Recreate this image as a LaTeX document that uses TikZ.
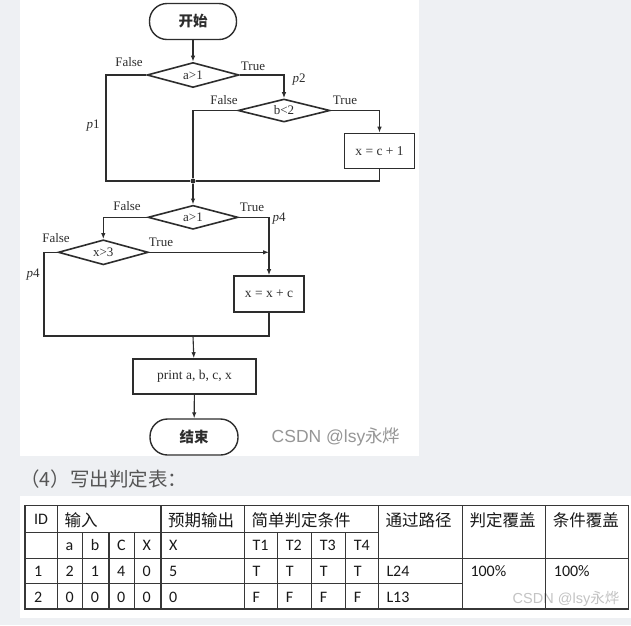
\documentclass[tikz,border=0pt]{standalone}
\usepackage{fontspec}
\setmainfont{Liberation Serif}
\newfontfamily\cjkfont{Noto Sans CJK SC}
\newfontfamily\calfont{Carlito}
\newfontfamily\arialfont{Liberation Sans}
\usetikzlibrary{shapes.geometric,arrows.meta}
\definecolor{bggray}{RGB}{238,240,243}
\definecolor{ink}{RGB}{45,45,45}
\definecolor{wmone}{RGB}{150,150,150}
\definecolor{wmtwo}{RGB}{195,195,195}
\definecolor{tline}{RGB}{55,55,55}
\definecolor{captxt}{RGB}{85,85,85}
\definecolor{ttxt}{RGB}{25,25,25}
\tikzset{
  term/.style={draw=ink, line width=1.4pt, rounded corners=17.5pt, minimum width=87pt, minimum height=36pt, inner sep=0pt, font=\cjkfont\bfseries\fontsize{14.5}{16}\selectfont, text=ink},
  dec/.style={diamond, shape aspect=4, draw=ink, line width=1.6pt, minimum width=92pt, minimum height=25pt, inner sep=0pt, font=\fontsize{13}{14}\selectfont, text=ink},
  procbox/.style={draw=ink, line width=1.6pt, minimum width=70pt, minimum height=35pt, inner sep=2pt, font=\fontsize{13.5}{15}\selectfont, text=ink},
  lab/.style={font=\fontsize{13}{14}\selectfont, text=ink, inner sep=0pt},
  conn/.style={draw=ink, line width=1.1pt},
  arr/.style={conn, -{Latex[length=6pt,width=4.5pt]}},
  tc/.style={anchor=base west, inner sep=0pt, font=\calfont\fontsize{16}{18}\selectfont, text=ttxt},
  tz/.style={anchor=base west, inner sep=0pt, font=\cjkfont\fontsize{16.5}{18}\selectfont, text=ttxt},
  tgrid/.style={draw=tline, line width=1.3pt}
}
\begin{document}
\begin{tikzpicture}[x=1pt,y=-1pt]
\useasboundingbox (0,0) rectangle (631,625);
\fill[bggray] (0,0) rectangle (631,625);
\fill[white] (20,0) rectangle (419,456);
\fill[white] (20,496) rectangle (631,618);

% ---------- flowchart ----------
\node[term] (start) at (193,21.5) {开始};
\node[dec] (d1) at (193,75) {a>1};
\node[dec, minimum height=23pt] (d2) at (284,110.5) {b<2};
\node[procbox] (b1) at (379.5,151) {x = c + 1};
\node[circle, fill=ink, inner sep=0pt, minimum size=5pt] (j) at (193,181) {};
\node[dec, minimum width=90pt, minimum height=24pt] (d3) at (193,217.3) {a>1};
\node[dec, minimum width=90pt] (d4) at (103.3,252.3) {x>3};
\node[procbox, minimum width=70pt, minimum height=36pt] (b2) at (269,294) {x = x + c};
\node[procbox, minimum width=123pt] (b3) at (194.5,376.5) {print a, b, c, x};
\node[term, minimum width=88pt] (end) at (194,437) {结束};

\coordinate (c1) at (106,181);
\coordinate (c2) at (379.5,181);
\coordinate (t4) at (269,252.3);
\coordinate (m) at (193,336);
\coordinate (c3) at (44,336);
\coordinate (c4) at (269,336);

\draw[arr] (start) -- (d1);
\draw[conn] (d1.west) -| (c1) -- (j);
\draw[arr] (d1.east) -| (d2.north);
\draw[conn] (d2.west) -| (j);
\draw[arr] (d2.east) -| (b1.north);
\draw[conn] (b1.south) -- (c2) -- (j);
\draw[arr] (j) -- (d3);
\draw[arr] (d3.west) -| (d4.north);
\draw[arr] (d3.east) -| (b2.north);
\draw[arr] (d4.east) -- (t4);
\draw[conn] (d4.west) -| (c3) -- (m);
\draw[conn] (b2.south) -- (c4) -- (m);
\draw[arr] (m) -- (b3);
\draw[arr] (b3) -- (end);

\node[lab] (f1) at (129,62) {False};
\node[lab] (t1) at (253,66) {True};
\node[lab] (p2) at (299,80) {\textit{p}2};
\node[lab] (p1) at (93,126) {\textit{p}1};
\node[lab] (f2) at (224,100) {False};
\node[lab] (tt2) at (345,100) {True};
\node[lab] (f3) at (127,206) {False};
\node[lab] (tt3) at (252,207) {True};
\node[lab] (p4a) at (279,219) {\textit{p}4};
\node[lab] (f4) at (56,238) {False};
\node[lab] (tt4) at (161,242) {True};
\node[lab] (p4b) at (33,275) {\textit{p}4};

\node[inner sep=0pt, text=wmone, font=\fontsize{17.5}{19}\selectfont] (wm1) at (336,437) {{\arialfont CSDN @lsy}{\cjkfont 永烨}};

% ---------- caption ----------
\node[anchor=base west, inner sep=0pt, text=captxt, font=\cjkfont\fontsize{19.5}{21}\selectfont] (cap) at (20,486.5) {（4）写出判定表：};

% ---------- table ----------
\node[inner sep=0pt, text=wmtwo, font=\fontsize{14.5}{16}\selectfont] (wm2) at (566,599) {{\arialfont CSDN @lsy}{\cjkfont 永烨}};

\draw[tgrid] (25,505.7) rectangle (628.5,609);
\draw[tgrid] (25,532.3) -- (378.3,532.3);
\draw[tgrid] (25,558.3) -- (628.5,558.3);
\draw[tgrid] (25,583.7) -- (462.3,583.7);
\foreach \x in {57.3,161,244.3,378.3,462.3,545.7}
  \draw[tgrid] (\x,505.7) -- (\x,609);
\foreach \x in {82.7,109,134.3,277.7,311.7,345.7}
  \draw[tgrid] (\x,532.3) -- (\x,609);

% header row
\node[tc] (h1) at (34,524.5) {ID};
\node[tz] (h2) at (64.3,526) {输入};
\node[tz] (h3) at (168,526) {预期输出};
\node[tz] (h4) at (251.3,526) {简单判定条件};
\node[tz] (h5) at (385.3,526) {通过路径};
\node[tz] (h6) at (469.3,526) {判定覆盖};
\node[tz] (h7) at (552.7,526) {条件覆盖};
% second header row
\node[tc] (s1) at (65.3,550.8) {a};
\node[tc] (s2) at (90.7,550.8) {b};
\node[tc] (s3) at (117,550.8) {C};
\node[tc] (s4) at (142.3,550.8) {X};
\node[tc] (s5) at (169,550.8) {X};
\node[tc] (s6) at (252.3,550.8) {T1};
\node[tc] (s7) at (285.7,550.8) {T2};
\node[tc] (s8) at (319.7,550.8) {T3};
\node[tc] (s9) at (353.7,550.8) {T4};
% row 1
\node[tc] (a1) at (34,576.5) {1};
\node[tc] (a2) at (65.3,576.5) {2};
\node[tc] (a3) at (90.7,576.5) {1};
\node[tc] (a4) at (117,576.5) {4};
\node[tc] (a5) at (142.3,576.5) {0};
\node[tc] (a6) at (169,576.5) {5};
\node[tc] (a7) at (252.3,576.5) {T};
\node[tc] (a8) at (285.7,576.5) {T};
\node[tc] (a9) at (319.7,576.5) {T};
\node[tc] (a10) at (353.7,576.5) {T};
\node[tc] (a11) at (386.3,576.5) {L24};
\node[tc] (a12) at (470.3,576.5) {100\%};
\node[tc] (a13) at (553.7,576.5) {100\%};
% row 2
\node[tc] (b1r) at (34,602) {2};
\node[tc] (b2r) at (65.3,602) {0};
\node[tc] (b3r) at (90.7,602) {0};
\node[tc] (b4r) at (117,602) {0};
\node[tc] (b5r) at (142.3,602) {0};
\node[tc] (b6r) at (169,602) {0};
\node[tc] (b7r) at (252.3,602) {F};
\node[tc] (b8r) at (285.7,602) {F};
\node[tc] (b9r) at (319.7,602) {F};
\node[tc] (b10r) at (353.7,602) {F};
\node[tc] (b11r) at (386.3,602) {L13};
\end{tikzpicture}
\end{document}
